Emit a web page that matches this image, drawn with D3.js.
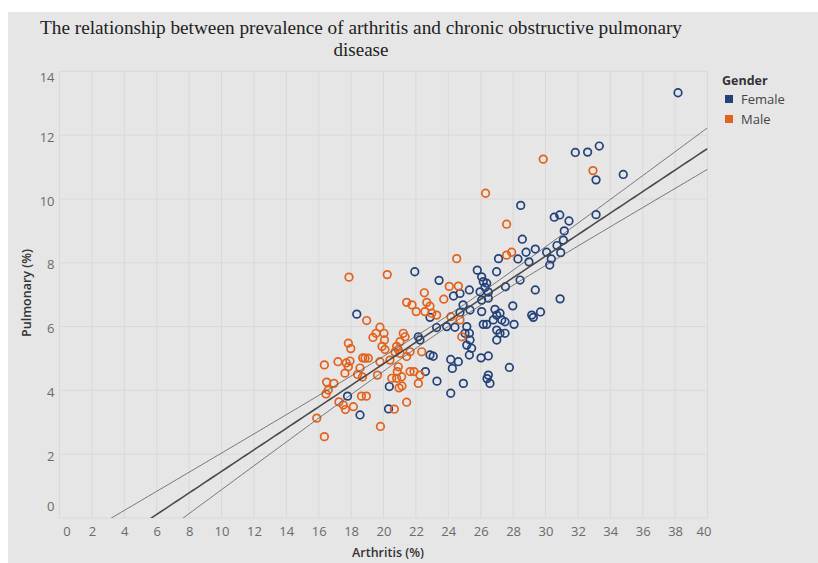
<!DOCTYPE html>
<html><head><meta charset="utf-8">
<script src="https://cdn.jsdelivr.net/npm/d3@7"></script>
<style>
html,body{margin:0;padding:0;background:#fff;}
svg{display:block;}
</style></head><body>
<svg id="chart" width="818" height="563"></svg>
<script>
// ---------------- data ----------------
const femaleX = [38.18,31.84,32.60,33.32,33.12,34.80,28.47,30.54,30.88,31.45,33.12,31.16,28.57,31.10,30.71,30.94,29.37,28.80,30.07,28.30,28.98,30.36,30.26,27.10,26.98,25.79,26.06,26.16,26.37,26.27,26.47,25.96,28.43,27.53,29.37,30.90,27.98,29.15,29.69,29.25,28.06,26.47,26.06,23.43,21.93,25.30,24.72,24.32,24.91,25.34,24.72,26.88,26.06,26.99,26.78,27.30,27.19,27.50,26.99,27.19,27.50,26.99,26.16,26.37,22.87,23.28,23.90,24.41,25.14,25.03,25.30,25.34,25.14,25.44,22.15,22.25,22.87,23.07,22.59,23.30,24.15,24.62,24.25,24.93,24.15,25.30,26.02,26.47,27.77,26.47,26.39,26.57,18.35,17.78,18.55,20.36,20.31];
const femaleY = [13.33,11.46,11.47,11.66,10.60,10.77,9.80,9.43,9.50,9.31,9.51,9.00,8.74,8.71,8.54,8.32,8.43,8.33,8.33,8.12,8.03,8.12,7.93,8.13,7.72,7.77,7.56,7.41,7.36,7.23,7.08,7.09,7.46,7.25,7.15,6.87,6.65,6.36,6.46,6.29,6.07,6.89,6.83,7.45,7.72,7.15,7.04,6.96,6.68,6.52,6.44,6.54,6.47,6.36,6.21,6.21,6.42,6.15,5.89,5.79,5.79,5.58,6.07,6.07,6.29,5.97,6.00,5.98,6.00,5.79,5.79,5.58,5.42,5.32,5.68,5.58,5.11,5.07,4.59,4.29,4.97,4.90,4.69,4.22,3.91,5.11,5.02,5.08,4.72,4.48,4.37,4.22,6.39,3.82,3.23,4.12,3.42];
const maleX = [29.86,32.93,26.30,27.60,27.91,27.60,24.52,17.87,20.23,22.52,24.06,24.62,23.72,21.43,21.76,22.02,22.67,22.87,22.56,22.98,23.28,18.96,19.78,20.03,19.54,19.35,20.06,19.91,20.09,21.22,21.33,21.02,17.83,17.98,20.81,20.91,20.71,21.02,21.64,22.36,18.86,19.06,18.72,17.19,17.70,17.93,17.83,17.62,16.35,18.55,19.78,20.40,20.91,20.85,21.12,20.81,20.51,21.64,21.88,22.25,22.15,18.40,18.70,19.63,16.49,16.94,16.59,16.45,21.14,18.64,18.94,17.25,17.52,17.65,18.14,21.43,20.67,15.88,19.81,16.35,24.16,24.72,24.83,20.96,21.43];
const maleY = [11.25,10.89,10.18,9.21,8.33,8.24,8.13,7.55,7.63,7.06,7.26,7.27,6.86,6.76,6.68,6.47,6.76,6.64,6.47,6.42,6.36,6.19,5.98,5.79,5.79,5.66,5.58,5.38,5.28,5.79,5.68,5.53,5.48,5.31,5.38,5.28,5.20,5.16,5.21,5.21,5.01,5.01,5.02,4.90,4.86,4.92,4.74,4.54,4.80,4.70,4.90,4.95,4.74,4.59,4.43,4.38,4.38,4.59,4.59,4.48,4.22,4.50,4.42,4.48,4.26,4.22,4.01,3.89,4.14,3.82,3.82,3.64,3.54,3.40,3.49,3.63,3.41,3.13,2.87,2.55,6.31,6.21,5.68,4.08,5.06];
const genders = ["Female", "Male"];
const genderColors = ["#24427a", "#e2621c"];
const xTicks = [0,2,4,6,8,10,12,14,16,18,20,22,24,26,28,30,32,34,36,38,40];
const yTicks = [0,2,4,6,8,10,12,14];
const titleLines = ["The relationship between prevalence of arthritis and chronic obstructive pulmonary", "disease"];
const xTitle = "Arthritis (%)";
const yTitle = "Pulmonary (%)";
const legendTitle = "Gender";

// ---------------- chart ----------------
const W = 818, H = 563;
const svg = d3.select("#chart");
svg.append("rect").attr("width", W).attr("height", H).attr("fill", "#ffffff");
svg.append("rect").attr("x", 8).attr("y", 12).attr("width", W - 8).attr("height", H - 12).attr("fill", "#e6e6e6");

const x = d3.scaleLinear().domain([0, 40]).range([59.5, 707.5]);
const y = d3.scaleLinear().domain([0, 14]).range([518, 71.4]);
const color = d3.scaleOrdinal().domain(genders).range(genderColors);

// grid
const grid = svg.append("g");
grid.selectAll(".vg").data(xTicks).join("line")
  .attr("x1", d => x(d)).attr("x2", d => x(d))
  .attr("y1", y(14)).attr("y2", y(0))
  .attr("stroke", "#d9d9d9").attr("stroke-width", 1);
grid.selectAll(".hg").data(yTicks).join("line")
  .attr("x1", x(0)).attr("x2", x(40))
  .attr("y1", d => y(d)).attr("y2", d => y(d))
  .attr("stroke", "#d9d9d9").attr("stroke-width", 1);

// clip
svg.append("clipPath").attr("id", "pane").append("rect")
  .attr("x", x(0)).attr("y", y(14)).attr("width", x(40) - x(0)).attr("height", y(0) - y(14));

// points
const points = [];
femaleX.forEach((v, i) => points.push({g: "Female", x: v, y: femaleY[i]}));
maleX.forEach((v, i) => points.push({g: "Male", x: v, y: maleY[i]}));

const marks = svg.append("g").attr("clip-path", "url(#pane)");
marks.selectAll("circle").data(points).join("circle")
  .attr("cx", d => x(d.x)).attr("cy", d => y(d.y)).attr("r", 3.8)
  .attr("fill", "none").attr("stroke", d => color(d.g)).attr("stroke-width", 1.7);

// linear regression with 95% confidence band
const n = points.length;
const mx = d3.mean(points, d => d.x), my = d3.mean(points, d => d.y);
const sxx = d3.sum(points, d => (d.x - mx) ** 2);
const sxy = d3.sum(points, d => (d.x - mx) * (d.y - my));
const b = sxy / sxx, a = my - b * mx;
const sse = d3.sum(points, d => (d.y - (a + b * d.x)) ** 2);
const s = Math.sqrt(sse / (n - 2));
const t = 1.973;
const xs = d3.range(0, 40.001, 0.25);
const fit = xs.map(v => ({x: v, y: a + b * v, h: t * s * Math.sqrt(1 / n + (v - mx) ** 2 / sxx)}));
const lineGen = d3.line().x(d => x(d.x)).y(d => y(d.y));
const trend = svg.append("g").attr("clip-path", "url(#pane)");
trend.append("path").datum(fit.map(d => ({x: d.x, y: d.y + d.h})))
  .attr("d", lineGen).attr("fill", "none").attr("stroke", "#5a5a5a").attr("stroke-width", 0.8);
trend.append("path").datum(fit.map(d => ({x: d.x, y: d.y - d.h})))
  .attr("d", lineGen).attr("fill", "none").attr("stroke", "#5a5a5a").attr("stroke-width", 0.8);
trend.append("path").datum(fit)
  .attr("d", lineGen).attr("fill", "none").attr("stroke", "#4a4a4a").attr("stroke-width", 1.6);

// axes
const tickFont = "'Open Sans', 'DejaVu Sans', sans-serif";
const xAxis = svg.append("g").attr("transform", `translate(0,${y(0)})`)
  .call(d3.axisBottom(x).tickValues(xTicks).tickSize(0).tickPadding(9).tickFormat(d3.format("d")));
xAxis.select(".domain").remove();
xAxis.selectAll("text").attr("font-family", tickFont).attr("font-size", 13).attr("fill", "#6a6a6a")
  .attr("transform", d => d === 0 ? "translate(7,0)" : d === 40 ? "translate(-4,0)" : null);

const yAxis = svg.append("g").attr("transform", `translate(${x(0)},0)`)
  .call(d3.axisLeft(y).tickValues(yTicks).tickSize(0).tickPadding(5).tickFormat(d3.format("d")));
yAxis.select(".domain").remove();
yAxis.selectAll("text").attr("font-family", tickFont).attr("font-size", 13).attr("fill", "#6a6a6a")
  .attr("transform", d => d === 0 ? "translate(0,-12)" : d === 14 ? "translate(0,6)" : "translate(0,2)");

// axis titles
svg.append("text").attr("x", 388).attr("y", 557).attr("text-anchor", "middle")
  .attr("font-family", tickFont).attr("font-size", 12.5).attr("font-weight", 600).attr("fill", "#333")
  .text(xTitle);
svg.append("text").attr("transform", "translate(31,293) rotate(-90)").attr("text-anchor", "middle")
  .attr("font-family", tickFont).attr("font-size", 12.5).attr("font-weight", 600).attr("fill", "#333")
  .text(yTitle);

// title
const title = svg.append("g");
titleLines.forEach((line, i) => {
  const tx = title.append("text").attr("x", 361).attr("y", 34 + i * 22).attr("text-anchor", "middle")
    .attr("font-family", "'Liberation Serif', 'Times New Roman', serif").attr("font-size", 19).attr("fill", "#222")
    .text(line);
  if (i === 0) tx.attr("textLength", 642).attr("lengthAdjust", "spacingAndGlyphs");
});

// legend
const leg = svg.append("g").attr("transform", "translate(722,0)");
leg.append("text").attr("x", 0).attr("y", 85).attr("font-family", tickFont).attr("font-size", 12.5)
  .attr("font-weight", 700).attr("fill", "#333").text(legendTitle);
const items = leg.selectAll(".it").data(genders).join("g").attr("transform", (d, i) => `translate(0,${95 + i * 20})`);
items.append("rect").attr("x", 3).attr("y", 0).attr("width", 8).attr("height", 8).attr("fill", d => color(d));
items.append("text").attr("x", 19).attr("y", 9).attr("font-family", tickFont).attr("font-size", 13)
  .attr("fill", "#444").text(d => d);
</script>
</body></html>
